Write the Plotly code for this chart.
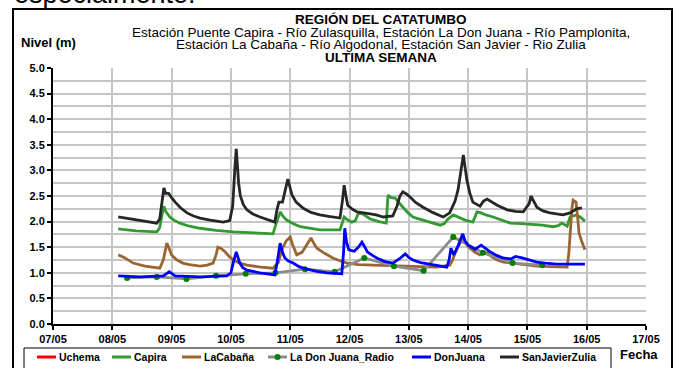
import datetime as dt
import plotly.graph_objects as go

# Water level (m) per station over the last week.
# Times are fractional day-of-month (May 2013).
san_javier_t = [8.10, 8.30, 8.50, 8.75, 8.80, 8.84, 8.87, 8.90, 8.95, 9.00, 9.06, 9.15, 9.26, 9.37,
                9.48, 9.65, 9.87, 9.98, 10.03, 10.07, 10.09, 10.11, 10.13, 10.16, 10.21, 10.27,
                10.37, 10.49, 10.62, 10.74, 10.78, 10.81, 10.87, 10.92, 10.96, 10.99, 11.03, 11.10,
                11.22, 11.35, 11.50, 11.65, 11.84, 11.88, 11.91, 11.94, 11.97, 12.05, 12.13, 12.35,
                12.45, 12.57, 12.73, 12.80, 12.85, 12.90, 12.96, 13.02, 13.12, 13.24, 13.40, 13.58,
                13.69, 13.78, 13.83, 13.88, 13.92, 13.95, 13.98, 14.03, 14.08, 14.20, 14.26, 14.32,
                14.40, 14.49, 14.66, 14.80, 14.93, 15.03, 15.06, 15.10, 15.16, 15.26, 15.38, 15.60,
                15.72, 15.83, 15.92]
san_javier_v = [2.09, 2.05, 2.01, 1.97, 2.05, 2.45, 2.66, 2.55, 2.55, 2.47, 2.38, 2.27, 2.17, 2.11,
                2.07, 2.03, 1.99, 2.02, 2.30, 3.10, 3.42, 3.10, 2.75, 2.50, 2.33, 2.23,
                2.15, 2.09, 2.04, 1.99, 2.25, 2.38, 2.38, 2.60, 2.83, 2.70, 2.52, 2.38,
                2.26, 2.18, 2.13, 2.10, 2.07, 2.40, 2.71, 2.50, 2.32, 2.24, 2.19, 2.15,
                2.13, 2.09, 2.11, 2.30, 2.50, 2.58, 2.54, 2.48, 2.37, 2.28, 2.18, 2.09,
                2.17, 2.40, 2.62, 3.00, 3.30, 3.05, 2.81, 2.55, 2.38, 2.30, 2.40, 2.44,
                2.38, 2.32, 2.23, 2.20, 2.19, 2.35, 2.50, 2.40, 2.28, 2.21, 2.17, 2.13,
                2.17, 2.25, 2.27]

capira_t = [8.10, 8.40, 8.75, 8.80, 8.85, 8.87, 8.90, 8.97, 9.05, 9.14, 9.30, 9.48, 9.75, 10.04,
            10.40, 10.71, 10.76, 10.83, 10.88, 10.94, 11.05, 11.17, 11.50, 11.84, 11.88, 11.91,
            11.96, 12.04, 12.10, 12.15, 12.22, 12.28, 12.35, 12.50, 12.62, 12.65, 12.70, 12.77,
            12.83, 12.90, 12.98, 13.07, 13.18, 13.31, 13.45, 13.53, 13.60, 13.66, 13.75, 13.85,
            13.95, 14.08, 14.12, 14.15, 14.22, 14.30, 14.42, 14.55, 14.71, 14.90, 15.04, 15.25,
            15.43, 15.52, 15.58, 15.63, 15.67, 15.72, 15.83, 15.90, 15.97]
capira_v = [1.86, 1.82, 1.80, 1.88, 2.20, 2.30, 2.20, 2.09, 2.02, 1.97, 1.91, 1.87, 1.83, 1.80,
            1.78, 1.76, 1.95, 2.19, 2.10, 2.03, 1.96, 1.90, 1.84, 1.84, 1.98, 2.09,
            2.04, 1.99, 2.02, 2.17, 2.15, 2.10, 2.05, 2.00, 1.97, 2.52, 2.47, 2.46,
            2.37, 2.28, 2.18, 2.09, 2.05, 2.01, 1.96, 1.93, 1.96, 2.05, 2.13, 2.08,
            2.03, 1.99, 2.10, 2.19, 2.17, 2.13, 2.09, 2.03, 1.97, 1.96, 1.95, 1.93,
            1.90, 1.92, 1.97, 1.93, 1.91, 2.09, 2.13, 2.08, 2.01]

cabana_t = [8.10, 8.20, 8.35, 8.55, 8.80, 8.86, 8.92, 8.96, 9.00, 9.08, 9.19, 9.30, 9.48, 9.60,
            9.70, 9.75, 9.78, 9.84, 9.90, 9.97, 10.04, 10.15, 10.27, 10.50, 10.71, 10.80, 10.86,
            10.93, 11.00, 11.04, 11.07, 11.11, 11.20, 11.28, 11.35, 11.40, 11.45, 11.58, 11.72,
            11.85, 11.96, 12.15, 12.35, 12.80, 13.20, 13.47, 13.69, 13.74, 13.78, 13.85, 13.91,
            13.96, 14.03, 14.12, 14.20, 14.26, 14.32, 14.40, 14.49, 14.60, 14.76, 15.00, 15.16,
            15.40, 15.67, 15.70, 15.72, 15.75, 15.77, 15.82, 15.85, 15.87, 15.92, 15.97]
cabana_v = [1.35, 1.30, 1.19, 1.13, 1.09, 1.25, 1.58, 1.45, 1.35, 1.26, 1.19, 1.16, 1.13, 1.15,
            1.19, 1.35, 1.50, 1.47, 1.41, 1.32, 1.25, 1.19, 1.15, 1.11, 1.09, 1.20, 1.45,
            1.62, 1.70, 1.55, 1.45, 1.35, 1.40, 1.55, 1.68, 1.57, 1.48, 1.38, 1.29,
            1.23, 1.19, 1.16, 1.15, 1.13, 1.12, 1.11, 1.15, 1.25, 1.39, 1.55, 1.68,
            1.58, 1.48, 1.40, 1.35, 1.38, 1.39, 1.31, 1.25, 1.21, 1.19, 1.15, 1.13,
            1.12, 1.11, 1.40, 1.84, 2.25, 2.42, 2.38, 2.05, 1.78, 1.60, 1.45]

don_juana_t = [8.10, 8.47, 8.86, 8.96, 9.06, 9.48, 9.93, 10.00, 10.04, 10.09, 10.12, 10.15, 10.20,
               10.27, 10.49, 10.74, 10.78, 10.83, 10.87, 10.91, 10.97, 11.05, 11.15, 11.28, 11.45,
               11.62, 11.87, 11.90, 11.92, 11.95, 11.99, 12.08, 12.15, 12.21, 12.26, 12.30, 12.40,
               12.46, 12.60, 12.73, 12.85, 12.94, 13.00, 13.07, 13.20, 13.36, 13.50, 13.64, 13.68,
               13.71, 13.74, 13.76, 13.82, 13.91, 13.95, 14.00, 14.06, 14.12, 14.17, 14.22, 14.30,
               14.37, 14.48, 14.59, 14.72, 14.80, 14.91, 15.05, 15.16, 15.30, 15.50, 15.97]
don_juana_v = [0.94, 0.92, 0.94, 1.02, 0.94, 0.92, 0.94, 1.00, 1.20, 1.41, 1.30, 1.19, 1.10,
               1.05, 1.00, 0.96, 1.20, 1.58, 1.40, 1.29, 1.23, 1.19, 1.12, 1.07, 1.03,
               1.00, 0.98, 1.40, 1.87, 1.60, 1.45, 1.42, 1.50, 1.60, 1.50, 1.41, 1.33,
               1.29, 1.22, 1.19, 1.28, 1.37, 1.30, 1.25, 1.20, 1.17, 1.14, 1.11, 1.25,
               1.48, 1.40, 1.35, 1.50, 1.76, 1.62, 1.54, 1.50, 1.46, 1.50, 1.54, 1.47,
               1.41, 1.34, 1.29, 1.27, 1.32, 1.29, 1.24, 1.21, 1.19, 1.17, 1.17]

radio_t = [8.25, 8.75, 9.25, 9.75, 10.25, 10.75, 11.25, 11.75, 12.25, 12.75, 13.25, 13.75, 14.25,
           14.75, 15.25]
radio_v = [0.90, 0.92, 0.88, 0.94, 0.98, 1.00, 1.07, 1.02, 1.29, 1.13, 1.04, 1.70, 1.39,
           1.19, 1.15]

uchema_t = []
uchema_v = []

x_ticks = [7, 8, 9, 10, 11, 12, 13, 14, 15, 16, 17]
title_lines = [
    "<b>REGIÓN DEL CATATUMBO</b>",
    "Estación Puente Capira - Río Zulasquilla, Estación La Don Juana - Río Pamplonita,",
    "Estación La Cabaña - Río Algodonal, Estación San Javier - Rio Zulia",
    "<b>ULTIMA SEMANA</b>",
]

BASE = dt.datetime(2013, 5, 1)
FONT = "Liberation Sans, Arial, sans-serif"

# Plot-area geometry in pixels (used to place the frame and the legend box)
W, H = 676, 368
M_L, M_R, M_T, M_B = 53, 30, 68, 44
PW, PH = W - M_L - M_R, H - M_T - M_B


def to_dates(days):
    return [BASE + dt.timedelta(days=d - 1) for d in days]


def px_x(px):
    return (px - M_L) / PW


def px_y(py):
    return (H - M_B - py) / PH


series = [
    # name, times, values, line colour, marker colour
    ("Uchema", uchema_t, uchema_v, "#ff0000", None),
    ("Capira", capira_t, capira_v, "#339933", None),
    ("LaCabaña", cabana_t, cabana_v, "#996633", None),
    ("La Don Juana_Radio", radio_t, radio_v, "#8c8c8c", "#008000"),
    ("DonJuana", don_juana_t, don_juana_v, "#0000ff", None),
    ("SanJavierZulia", san_javier_t, san_javier_v, "#262626", None),
]

fig = go.Figure()
for name, t, v, color, mcolor in series:
    kw = dict(mode="lines")
    if mcolor:
        kw = dict(mode="lines+markers", marker=dict(color=mcolor, size=6))
    fig.add_trace(go.Scatter(x=to_dates(t), y=v, name=name, showlegend=False,
                             line=dict(color=color, width=2.8), **kw))

tick_dates = to_dates(x_ticks)
fig.update_xaxes(
    type="date", range=[tick_dates[0], tick_dates[-1]],
    tickvals=tick_dates, ticktext=[d.strftime("%d/%m") for d in tick_dates],
    showgrid=True, gridcolor="#c6c6c6", gridwidth=2,
    showline=True, linecolor="black", linewidth=2,
    ticks="outside", ticklen=4, tickwidth=1.5, tickcolor="black",
    tickfont=dict(family=FONT, size=11, color="black", weight="bold"),
    zeroline=False,
)
fig.update_yaxes(
    range=[0, 5], dtick=0.5, tickformat=".1f",
    showgrid=True, gridcolor="#c6c6c6", gridwidth=2,
    minor=dict(dtick=0.25, showgrid=True, gridcolor="#c6c6c6", gridwidth=2),
    showline=True, linecolor="black", linewidth=2,
    ticks="outside", ticklen=4, tickwidth=1.5, tickcolor="black",
    tickfont=dict(family=FONT, size=11, color="black", weight="bold"),
    zeroline=False,
)

annotations = []
shapes = []
for text, py in zip(title_lines, [19.5, 32, 44.5, 57]):
    annotations.append(dict(text=text, x=px_x(381), y=px_y(py), xref="paper", yref="paper",
                            xanchor="center", yanchor="middle", showarrow=False,
                            font=dict(family=FONT, size=13.5, color="black")))
annotations.append(dict(text="<b>Nivel (m)</b>", x=px_x(19), y=px_y(42), xref="paper",
                        yref="paper", xanchor="left", yanchor="middle", showarrow=False,
                        font=dict(family=FONT, size=13, color="black")))
annotations.append(dict(text="<b>Fecha</b>", x=px_x(639), y=px_y(354), xref="paper",
                        yref="paper", xanchor="center", yanchor="middle", showarrow=False,
                        font=dict(family=FONT, size=13, color="black")))
annotations.append(dict(text="especialmente:", x=px_x(12), y=px_y(11.5), xref="paper",
                        yref="paper", xanchor="left", yanchor="bottom", showarrow=False,
                        font=dict(family=FONT, size=27, color="black")))

# Outer chart frame
shapes.append(dict(type="rect", xref="paper", yref="paper", x0=px_x(13), x1=px_x(672),
                   y0=px_y(420), y1=px_y(9), line=dict(color="black", width=2), layer="below"))

# Legend box with a short line swatch per series
legend_left = [37, 112, 182, 268, 412, 500]
legend_y = px_y(357)
shapes.append(dict(type="rect", xref="paper", yref="paper", x0=px_x(24), x1=px_x(611),
                   y0=px_y(420), y1=px_y(348), line=dict(color="black", width=1),
                   fillcolor="white", layer="above"))
for (name, _, _, color, mcolor), left in zip(series, legend_left):
    shapes.append(dict(type="line", xref="paper", yref="paper", x0=px_x(left),
                       x1=px_x(left + 19), y0=legend_y, y1=legend_y,
                       line=dict(color=color, width=3), layer="above"))
    if mcolor:
        c = left + 9.5
        shapes.append(dict(type="circle", xref="paper", yref="paper", x0=px_x(c - 3),
                           x1=px_x(c + 3), y0=px_y(360), y1=px_y(354),
                           fillcolor=mcolor, line=dict(color=mcolor, width=0), layer="above"))
    annotations.append(dict(text=f"<b>{name}</b>", x=px_x(left + 20), y=legend_y,
                            xref="paper", yref="paper", xanchor="left", yanchor="middle",
                            showarrow=False,
                            font=dict(family=FONT, size=10.5, color="black")))

fig.update_layout(
    width=W, height=H,
    margin=dict(l=M_L, r=M_R, t=M_T, b=M_B),
    paper_bgcolor="white", plot_bgcolor="white",
    showlegend=False,
    annotations=annotations,
    shapes=shapes,
)

fig.write_html("out.html")
